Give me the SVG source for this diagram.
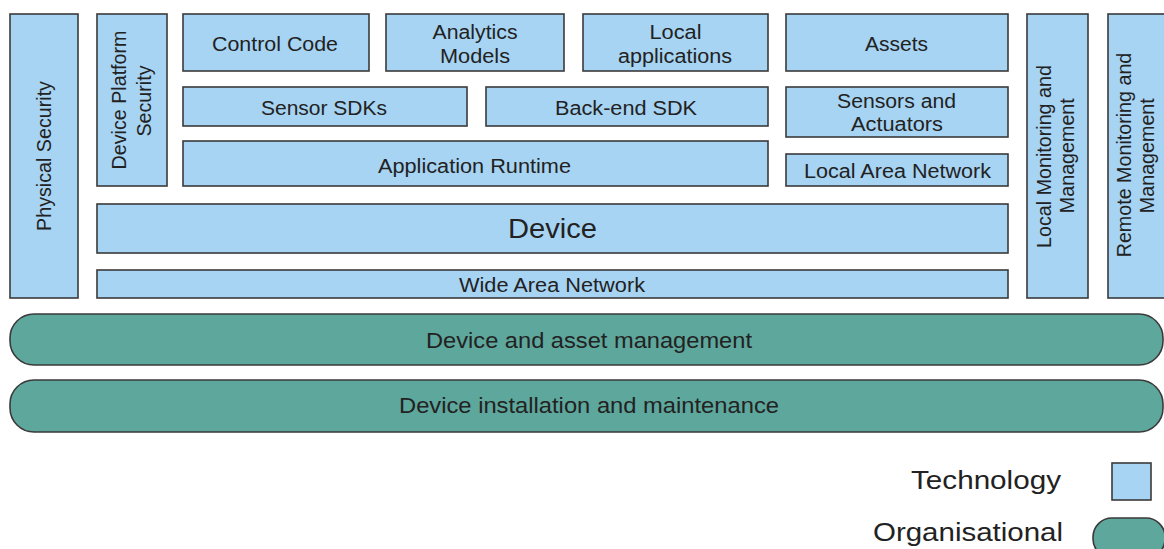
<svg xmlns="http://www.w3.org/2000/svg" width="1164" height="549" viewBox="0 0 1164 549">
<style>
.tech{fill:#a7d4f3;stroke:#3a3a3a;stroke-width:1.6}
.org{fill:#5ea79c;stroke:#3a3a3a;stroke-width:1.6}
text{font-family:"Liberation Sans",Arial,Helvetica,sans-serif;fill:#222;text-anchor:middle}
.s{font-size:20px}
.r{font-size:19.7px}
.b{font-size:22.5px}
.big{font-size:28px}
.leg{font-size:25px;text-anchor:end}
</style>
<rect width="1164" height="549" fill="#fff"/>
<g id="connectors"/>
<g id="physical-security">
<rect class="tech" x="10" y="14" width="68" height="284"/>
<text class="r" transform="translate(44,156) rotate(-90)" x="0" y="7">Physical Security</text>
</g>
<g id="device-platform-security">
<rect class="tech" x="97" y="14" width="70" height="172"/>
<text class="r" transform="translate(119,100) rotate(-90)" x="0" y="7">Device Platform</text>
<text class="r" transform="translate(144,101) rotate(-90)" x="0" y="7">Security</text>
</g>
<g id="control-code">
<rect class="tech" x="183" y="14" width="186" height="57"/>
<text class="s" x="275" y="50.5" textLength="126" lengthAdjust="spacingAndGlyphs">Control Code</text>
</g>
<g id="analytics-models">
<rect class="tech" x="386" y="14" width="178" height="57"/>
<text class="s" x="475" y="38.5" textLength="85" lengthAdjust="spacingAndGlyphs">Analytics</text>
<text class="s" x="475" y="62.5" textLength="70" lengthAdjust="spacingAndGlyphs">Models</text>
</g>
<g id="local-applications">
<rect class="tech" x="583" y="14" width="185" height="57"/>
<text class="s" x="675.5" y="38.5" textLength="52" lengthAdjust="spacingAndGlyphs">Local</text>
<text class="s" x="675" y="62.5" textLength="114" lengthAdjust="spacingAndGlyphs">applications</text>
</g>
<g id="assets">
<rect class="tech" x="786" y="14" width="222" height="57"/>
<text class="s" x="896.5" y="50.5" textLength="63" lengthAdjust="spacingAndGlyphs">Assets</text>
</g>
<g id="sensor-sdks">
<rect class="tech" x="183" y="87" width="284" height="39"/>
<text class="s" x="324" y="115" textLength="126" lengthAdjust="spacingAndGlyphs">Sensor SDKs</text>
</g>
<g id="back-end-sdk">
<rect class="tech" x="486" y="87" width="282" height="39"/>
<text class="s" x="626" y="115" textLength="142" lengthAdjust="spacingAndGlyphs">Back-end SDK</text>
</g>
<g id="sensors-actuators">
<rect class="tech" x="786" y="87" width="222" height="50"/>
<text class="s" x="896.5" y="107.7" textLength="119" lengthAdjust="spacingAndGlyphs">Sensors and</text>
<text class="s" x="897" y="130.7" textLength="92" lengthAdjust="spacingAndGlyphs">Actuators</text>
</g>
<g id="application-runtime">
<rect class="tech" x="183" y="141" width="585" height="45"/>
<text class="s" x="474.5" y="172.5" textLength="193" lengthAdjust="spacingAndGlyphs">Application Runtime</text>
</g>
<g id="local-area-network">
<rect class="tech" x="786" y="154" width="222" height="32"/>
<text class="s" x="897.5" y="178.3" textLength="187" lengthAdjust="spacingAndGlyphs">Local Area Network</text>
</g>
<g id="device">
<rect class="tech" x="97" y="204" width="911" height="49"/>
<text class="big" x="552.5" y="238" textLength="89" lengthAdjust="spacingAndGlyphs">Device</text>
</g>
<g id="wide-area-network">
<rect class="tech" x="97" y="270" width="911" height="28"/>
<text class="s" x="552" y="291.5" textLength="186" lengthAdjust="spacingAndGlyphs">Wide Area Network</text>
</g>
<g id="local-monitoring">
<rect class="tech" x="1027" y="14" width="61" height="284"/>
<text class="r" transform="translate(1044,156.5) rotate(-90)" x="0" y="7">Local Monitoring and</text>
<text class="r" transform="translate(1067,155.7) rotate(-90)" x="0" y="7">Management</text>
</g>
<g id="remote-monitoring">
<rect class="tech" x="1108" y="14" width="70" height="284"/>
<text class="r" transform="translate(1124,155) rotate(-90)" x="0" y="7">Remote Monitoring and</text>
<text class="r" transform="translate(1147,155.7) rotate(-90)" x="0" y="7">Management</text>
</g>
<g id="device-asset-management">
<rect class="org" x="10" y="314" width="1153" height="51" rx="24" ry="24"/>
<text class="b" x="589" y="347.5" textLength="326" lengthAdjust="spacingAndGlyphs">Device and asset management</text>
</g>
<g id="device-installation-maintenance">
<rect class="org" x="10" y="380" width="1153" height="52" rx="24" ry="24"/>
<text class="b" x="589" y="413" textLength="380" lengthAdjust="spacingAndGlyphs">Device installation and maintenance</text>
</g>
<g id="legend-technology">
<text class="leg" x="1061" y="489.3" textLength="150" lengthAdjust="spacingAndGlyphs">Technology</text>
<rect class="tech" x="1112" y="463" width="39" height="37"/>
</g>
<g id="legend-organisational">
<text class="leg" x="1063" y="540.5" textLength="190" lengthAdjust="spacingAndGlyphs">Organisational</text>
<rect class="org" x="1093" y="518" width="72" height="40" rx="19" ry="19"/>
</g>
</svg>
